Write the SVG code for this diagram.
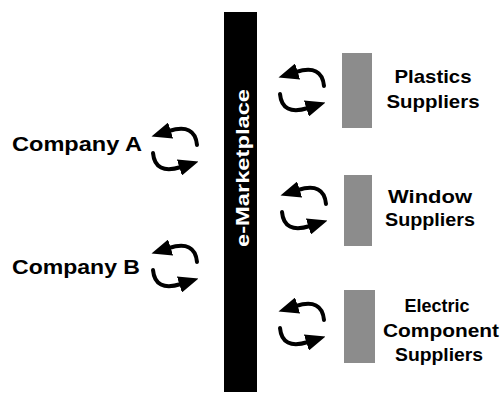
<svg xmlns="http://www.w3.org/2000/svg" width="500" height="397" viewBox="0 0 500 397">
<style>
  .lbl{font-family:"Liberation Sans",Arial,sans-serif;font-weight:bold;font-size:19px;fill:#000}
  .big{font-size:20px}
  .mkt{font-family:"Liberation Sans",Arial,sans-serif;font-weight:bold;font-size:18px;fill:#fff}
  .arc{fill:none;stroke:#000;stroke-width:4;stroke-linecap:round}
  .sup{fill:#8c8c8c}
</style>
<defs>
  <marker id="ah" viewBox="0 0 12 10" refX="1" refY="5" markerWidth="5" markerHeight="4.2" orient="auto" markerUnits="strokeWidth" preserveAspectRatio="none">
    <path d="M0,0 L12,5 L0,10 z" fill="#000"/>
  </marker>
  <g id="cycle">
    <path class="arc" d="M22,-4 Q20,-26 -6,-18" marker-end="url(#ah)"/>
    <path class="arc" d="M-22,4 Q-20,26 6,18" marker-end="url(#ah)"/>
  </g>
</defs>
<rect width="500" height="397" fill="#fff"/>
<g id="marketplace">
  <rect x="224" y="12" width="33" height="380" fill="#000"/>
  <text class="mkt" transform="translate(249,168) rotate(-90)" text-anchor="middle" textLength="158" lengthAdjust="spacingAndGlyphs">e-Marketplace</text>
</g>
<g id="company-a">
  <text class="lbl big" x="12" y="151" textLength="130" lengthAdjust="spacingAndGlyphs">Company A</text>
</g>
<g id="company-b">
  <text class="lbl big" x="12" y="274" textLength="128" lengthAdjust="spacingAndGlyphs">Company B</text>
</g>
<g id="plastics-suppliers">
  <rect class="sup" x="342" y="53" width="30" height="75"/>
  <text class="lbl" x="433" y="83" text-anchor="middle" textLength="77" lengthAdjust="spacingAndGlyphs">Plastics</text>
  <text class="lbl" x="433" y="108" text-anchor="middle" textLength="93" lengthAdjust="spacingAndGlyphs">Suppliers</text>
</g>
<g id="window-suppliers">
  <rect class="sup" x="344" y="175" width="28" height="71"/>
  <text class="lbl" x="430" y="203" text-anchor="middle" textLength="84" lengthAdjust="spacingAndGlyphs">Window</text>
  <text class="lbl" x="430" y="226" text-anchor="middle" textLength="90" lengthAdjust="spacingAndGlyphs">Suppliers</text>
</g>
<g id="electric-suppliers">
  <rect class="sup" x="344" y="290" width="31" height="73"/>
  <text class="lbl" x="437" y="312" text-anchor="middle" textLength="65" lengthAdjust="spacingAndGlyphs">Electric</text>
  <text class="lbl" x="441" y="337" text-anchor="middle" textLength="116" lengthAdjust="spacingAndGlyphs">Component</text>
  <text class="lbl" x="439" y="361" text-anchor="middle" textLength="88" lengthAdjust="spacingAndGlyphs">Suppliers</text>
</g>
<g id="connectors">
  <use href="#cycle" x="175" y="149"/>
  <use href="#cycle" x="175" y="266"/>
  <use href="#cycle" x="302" y="90"/>
  <use href="#cycle" x="304" y="208"/>
  <use href="#cycle" x="302" y="324"/>
</g>
</svg>
